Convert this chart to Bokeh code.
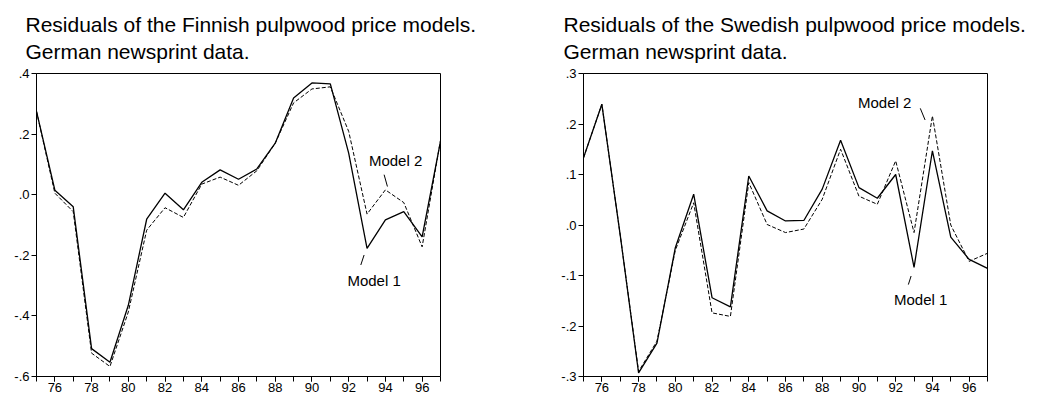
from bokeh.plotting import figure
from bokeh.layouts import row
from bokeh.models import (Range1d, FixedTicker, CustomJSTickFormatter, Title, Label)
from bokeh.embed import file_html
from bokeh.resources import INLINE

years = list(range(1975, 1998))
fin_model1 = [0.275, 0.015, -0.040, -0.508, -0.553, -0.365, -0.081, 0.005, -0.050, 0.041,
              0.082, 0.051, 0.085, 0.170, 0.319, 0.369, 0.366, 0.137, -0.177, -0.083,
              -0.056, -0.139, 0.176]
fin_model2 = [0.275, 0.005, -0.056, -0.523, -0.567, -0.387, -0.117, -0.043, -0.075, 0.035,
              0.058, 0.031, 0.079, 0.170, 0.303, 0.349, 0.356, 0.209, -0.064, 0.016,
              -0.026, -0.172, 0.180]
swe_model1 = [0.133, 0.239, -0.020, -0.293, -0.234, -0.045, 0.061, -0.144, -0.162, 0.097,
              0.028, 0.008, 0.009, 0.071, 0.168, 0.074, 0.053, 0.100, -0.084, 0.147,
              -0.024, -0.068, -0.086]
swe_model2 = [0.133, 0.239, -0.020, -0.290, -0.230, -0.050, 0.044, -0.174, -0.181, 0.084,
              0.001, -0.015, -0.008, 0.051, 0.150, 0.057, 0.041, 0.127, -0.015, 0.216,
              0.000, -0.072, -0.056]

fin_yticks = [-0.6, -0.4, -0.2, 0.0, 0.2, 0.4]
swe_yticks = [-0.3, -0.2, -0.1, 0.0, 0.1, 0.2, 0.3]
x_major = list(range(1976, 1997, 2))
x_minor = list(range(1975, 1998))

titles_fin = ["Residuals of the Finnish pulpwood price models.", "German newsprint data."]
titles_swe = ["Residuals of the Swedish pulpwood price models.", "German newsprint data."]

FONT = "Liberation Sans"


def make_plot(title_lines, m1, m2, yr, yticks, width, bl, br, title_off, labels):
    p = figure(width=width, height=400, x_range=Range1d(1975, 1997), y_range=Range1d(*yr),
               output_backend="svg", toolbar_location=None,
               min_border_left=bl, min_border_right=br, min_border_top=73, min_border_bottom=24)
    p.grid.visible = False
    p.outline_line_color = "black"
    p.outline_line_width = 1
    p.background_fill_color = "white"
    p.border_fill_color = "white"

    xa = p.xaxis[0]
    xa.ticker = FixedTicker(ticks=x_major, minor_ticks=x_minor)
    xa.formatter = CustomJSTickFormatter(code="return String(tick % 100);")
    xa.major_tick_out = 5
    xa.major_tick_in = 0
    xa.minor_tick_out = 5
    xa.minor_tick_in = 0
    xa.major_label_standoff = 1
    ya = p.yaxis[0]
    ya.ticker = FixedTicker(ticks=yticks, minor_ticks=[])
    ya.formatter = CustomJSTickFormatter(
        code="var s = Math.abs(tick).toFixed(1).replace('0.', '.'); return (tick < -1e-9 ? '-' : '') + s;")
    ya.major_tick_out = 5
    ya.major_tick_in = 0
    ya.minor_tick_out = 0
    ya.major_label_standoff = 2
    for ax in (xa, ya):
        ax.axis_line_color = "black"
        ax.major_tick_line_color = "black"
        ax.minor_tick_line_color = "black"
        ax.major_label_text_font = FONT
        ax.major_label_text_font_size = "13px"
        ax.major_label_text_color = "black"

    p.line(years, m2, line_color="black", line_width=1, line_dash="4 2")
    p.line(years, m1, line_color="black", line_width=1.3)

    p.add_layout(Title(text="\n".join(title_lines), align="left", offset=title_off,
                       text_font=FONT, text_font_size="21px", text_font_style="normal",
                       text_line_height=1.2, vertical_align="bottom",
                       text_color="black", standoff=20), "above")

    for (txt, lx, ly, sx0, sy0, sx1, sy1) in labels:
        p.add_layout(Label(x=lx, y=ly, text=txt, text_font=FONT, text_font_size="15px",
                           text_baseline="middle", text_align="left", text_color="black"))
        p.segment(x0=[sx0], y0=[sy0], x1=[sx1], y1=[sy1], line_color="black", line_width=1)
    return p


fin_labels = [("Model 2", 1993.1, 0.112, 1993.93, 0.066, 1994.11, 0.027),
              ("Model 1", 1991.93, -0.282, 1992.84, -0.199, 1992.66, -0.232)]
swe_labels = [("Model 2", 1989.95, 0.243, 1993.34, 0.231, 1993.6, 0.208),
              ("Model 1", 1991.91, -0.148, 1992.84, -0.101, 1992.69, -0.118)]

p1 = make_plot(titles_fin, fin_model1, fin_model2, (-0.6, 0.4), fin_yticks, 528, 36, 88, -11, fin_labels)
p2 = make_plot(titles_swe, swe_model1, swe_model2, (-0.3, 0.3), swe_yticks, 530, 55, 71, -20, swe_labels)

layout = row(p1, p2)
open("out.html", "w").write(file_html(layout, INLINE))
